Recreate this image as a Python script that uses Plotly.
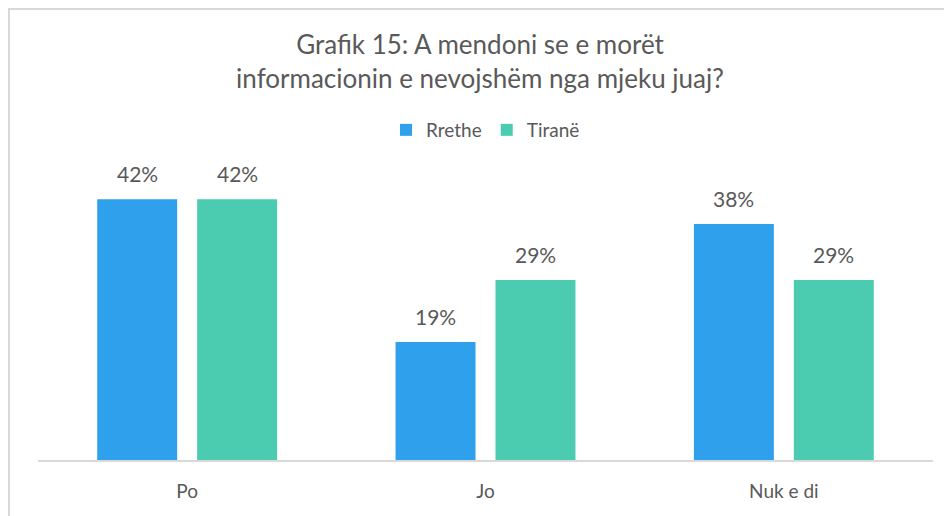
import plotly.graph_objects as go

categories = ["Po", "Jo", "Nuk e di"]
rrethe = [42, 19, 38]
tirane = [42, 29, 29]
series_names = ["Rrethe", "Tiranë"]
colors = ["#2FA0EC", "#4BCBAF"]
title_text = "Grafik 15: A mendoni se e morët<br>informacionin e nevojshëm nga mjeku juaj?"

FONT = "Lato"
TXT = "#595959"

fig = go.Figure()
for name, vals, col in zip(series_names, [rrethe, tirane], colors):
    fig.add_trace(go.Bar(name=name, x=categories, y=vals, marker_color=col,
                         marker_line_width=0, hoverinfo="skip"))

annotations = []
for vals, shift in [(rrethe, -50), (tirane, 50)]:
    for c, v in zip(categories, vals):
        annotations.append(dict(x=c, y=v, xref="x", yref="y", text=f"{v}%",
                                showarrow=False, xshift=shift, yshift=11,
                                yanchor="bottom",
                                font=dict(family=FONT, size=21, color=TXT)))

# page has an 8px body margin, so figure coords = page coords - 8
W, H = 944, 508
L, R, T, B = 30, 19, 154, 56
pw, ph = W - L - R, H - T - B
def px_x(p):
    return (p - L) / pw
def px_y(p):
    return (H - B - p) / ph

fig.update_layout(
    width=W, height=H,
    margin=dict(l=L, r=R, t=T, b=B),
    paper_bgcolor="white", plot_bgcolor="white",
    title=dict(text=title_text, x=0.5, xanchor="center", y=1 - 46 / H,
               yanchor="middle",
               font=dict(family=FONT, size=26, color=TXT)),
    barmode="group", bargap=0.33, bargroupgap=0.2,
    showlegend=True,
    legend=dict(orientation="h", x=0.5, xanchor="center", y=px_y(122),
                yanchor="middle", font=dict(family=FONT, size=19, color=TXT),
                itemwidth=30, traceorder="normal"),
    xaxis=dict(showline=True, linecolor="#D9D9D9", linewidth=2,
               ticks="", tickfont=dict(family=FONT, size=19, color=TXT),
               showgrid=False, ticklabelstandoff=13),
    yaxis=dict(range=[0, 48], visible=False, showgrid=False),
    annotations=annotations,
    shapes=[
        dict(type="line", xref="paper", yref="paper", x0=px_x(1), x1=px_x(1),
             y0=px_y(0), y1=px_y(H), line=dict(color="#D9D9D9", width=2)),
        dict(type="line", xref="paper", yref="paper", x0=px_x(0), x1=px_x(W),
             y0=px_y(1), y1=px_y(1), line=dict(color="#D9D9D9", width=2)),
    ],
)

fig.write_html("out.html")
